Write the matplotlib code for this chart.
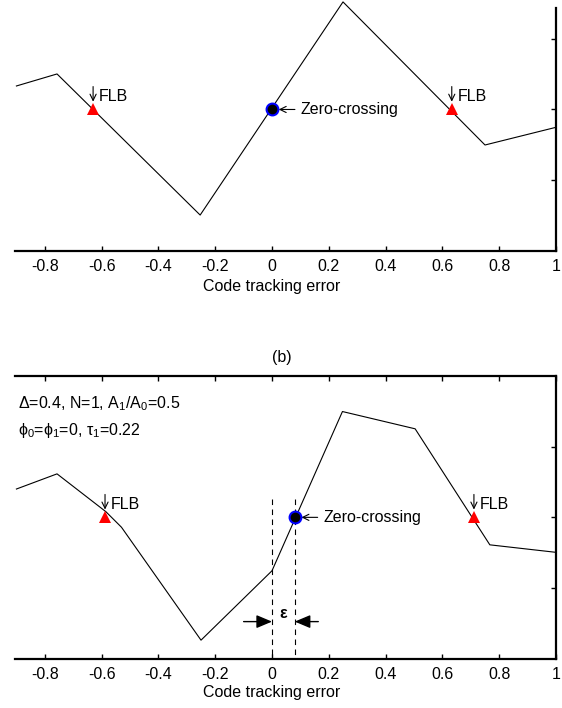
import matplotlib
matplotlib.use('Agg')
import matplotlib.pyplot as plt

plt.rcParams['font.family'] = ['Liberation Sans', 'DejaVu Sans']
plt.rcParams['mathtext.fontset'] = 'custom'
plt.rcParams['mathtext.rm'] = 'Liberation Sans'
plt.rcParams['mathtext.default'] = 'regular'

# (a) discriminator curve, no multipath
err_a = [-0.9, -0.757, -0.253, 0.25, 0.75, 1.0]
out_a = [0.166, 0.251, -0.746, 0.76, -0.251, -0.126]
flb_a = [-0.63, 0.633]
zero_a = 0.0

# (b) discriminator curve with one multipath ray
err_b = [-0.9, -0.757, -0.585, -0.53, -0.25, 0.0, 0.248, 0.504, 0.767, 1.0]
out_b = [0.2, 0.307, 0.04, -0.07, -0.867, -0.377, 0.747, 0.625, -0.194, -0.247]
flb_b = [-0.588, 0.711]
zero_b = 0.08
eps_y = -0.736
dash_top = 0.132

xticks = [-0.8, -0.6, -0.4, -0.2, 0, 0.2, 0.4, 0.6, 0.8, 1]
xticklabels = ['-0.8', '-0.6', '-0.4', '-0.2', '0', '0.2', '0.4', '0.6', '0.8', '1']
yticks = [-0.5, 0, 0.5]

fs = 11.5

fig = plt.figure(figsize=(5.62, 7.08), dpi=100)
ax1 = fig.add_axes([15/562, (708-251)/708, 541/562, 243/708])
ax2 = fig.add_axes([15/562, (708-659)/708, 541/562, 283.3/708])


def style(ax, top_spine):
    ax.set_xlim(-0.905, 1.0)
    ax.set_xticks(xticks)
    ax.set_xticklabels(xticklabels)
    ax.set_yticks(yticks)
    ax.yaxis.tick_right()
    ax.tick_params(axis='y', labelright=False, direction='in', length=3.5, width=1)
    ax.tick_params(axis='x', direction='in', length=3.5, width=1, labelsize=fs, pad=6,
                   top=top_spine)
    ax.spines['left'].set_visible(False)
    ax.spines['top'].set_visible(top_spine)
    for s in ax.spines.values():
        s.set_linewidth(1.6)
    ax.set_xlabel('Code tracking error', fontsize=fs)


thin = dict(arrowstyle='->,head_length=0.45,head_width=0.22', color='black', lw=0.8)


def markers(ax, flb, zero):
    ax.plot(flb, [0, 0], '^', color='red', markersize=9, markeredgewidth=0, zorder=4)
    ax.plot([zero], [0], 'o', markerfacecolor='black', markeredgecolor='blue',
            markersize=8.5, markeredgewidth=1.5, zorder=4)
    for x in flb:
        ax.annotate('', xy=(x, 0), xytext=(0, 16.5), textcoords='offset points',
                    arrowprops=dict(thin, shrinkA=0, shrinkB=5.6))
        ax.annotate('FLB', xy=(x, 0), xytext=(4.3, 5.8), textcoords='offset points',
                    ha='left', va='baseline', fontsize=fs)
    ax.annotate('', xy=(zero, 0), xytext=(16.5, 0), textcoords='offset points',
                arrowprops=dict(thin, shrinkA=0, shrinkB=4.8))
    ax.annotate('Zero-crossing', xy=(zero, 0), xytext=(20.8, 0), textcoords='offset points',
                ha='left', va='center', fontsize=fs)


# (a)
ax1.plot(err_a, out_a, color='black', lw=0.8, clip_on=False)
ax1.set_ylim(-1.0, 0.717)
style(ax1, False)
ax1.xaxis.set_label_coords(0.475, -0.115)
markers(ax1, flb_a, zero_a)

fig.text(282/562, 1 - 358/708, '(b)', ha='center', va='center', fontsize=fs)

# (b)
ax2.plot(err_b, out_b, color='black', lw=0.8)
ax2.set_ylim(-1.0, 1.0)
style(ax2, True)
ax2.xaxis.set_label_coords(0.475, -0.092)
markers(ax2, flb_b, zero_b)

for x in [0, zero_b]:
    ax2.plot([x, x], [dash_top, -1.0], color='black', lw=0.8, dashes=(5, 4))

arrow = dict(arrowstyle='-|>,head_length=0.95,head_width=0.4', color='black', lw=1,
             shrinkA=0, shrinkB=0, mutation_scale=10)
ax2.annotate('', xy=(0, eps_y), xytext=(-0.1, eps_y), arrowprops=arrow)
ax2.annotate('', xy=(zero_b, eps_y), xytext=(0.163, eps_y), arrowprops=arrow)
ax2.text(0.04, -0.712, 'ε', ha='center', va='baseline', fontsize=fs, fontweight='bold')

ax2.text(-0.894, 0.773, 'Δ=0.4, N=1, A$_1$/A$_0$=0.5', ha='left', va='baseline', fontsize=fs)
ax2.text(-0.894, 0.578, 'ϕ$_0$=ϕ$_1$=0, τ$_1$=0.22', ha='left', va='baseline', fontsize=fs)

fig.savefig('out.png', dpi=100)
